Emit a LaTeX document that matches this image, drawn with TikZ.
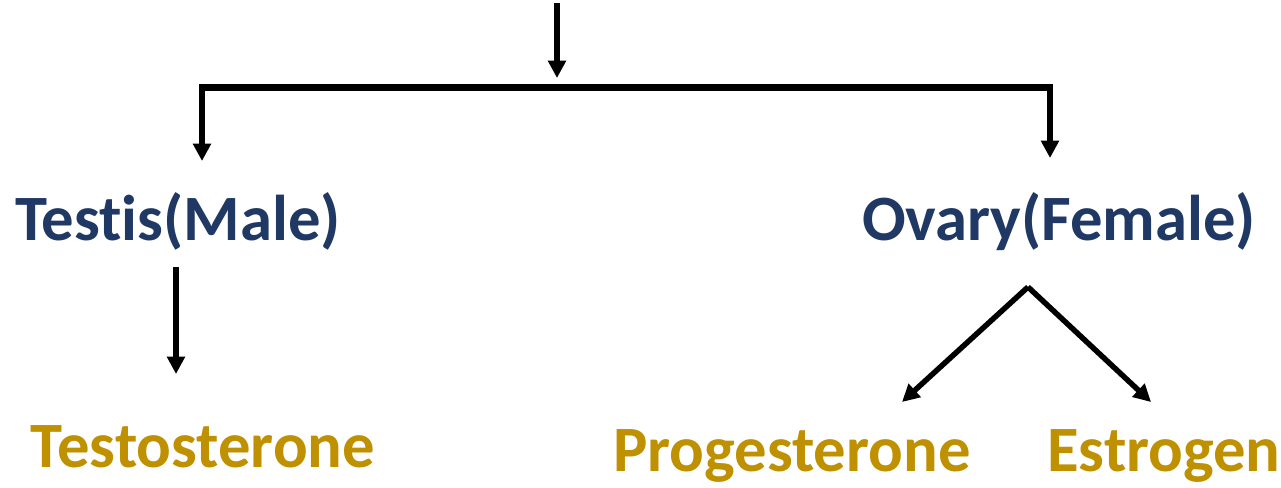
\documentclass[tikz,border=0pt]{standalone}
\usepackage{fontspec}
\setmainfont{Carlito}[Ligatures=NoCommon]
\usetikzlibrary{arrows.meta}
\definecolor{navytxt}{RGB}{31,56,100}
\definecolor{goldtxt}{RGB}{191,144,0}
\begin{document}
\begin{tikzpicture}[x=0.75pt,y=-0.75pt,
  organ/.style={inner sep=0pt,anchor=base,text=navytxt,font=\fontsize{48.5}{52}\selectfont\bfseries},
  hormone/.style={inner sep=0pt,anchor=base,text=goldtxt,font=\fontsize{48.5}{52}\selectfont\bfseries},
  conn/.style={line width=4.1pt,-{Triangle[width=13pt,length=13pt]}},
  barline/.style={line width=5.4pt}]
\useasboundingbox[fill=white] (0,0) rectangle (1281,487);
% nodes
\node[organ] (testis) at (178,240) {Testis(Male)};
\node[organ] (ovary) at (1059,240) {Ovary(Female)};
\node[hormone] (testo) at (203,467) {Testosterone};
\node[hormone] (proge) at (792,471) {Progesterone};
\node[hormone] (estro) at (1164,471) {Estrogen};
% connector points
\coordinate (topstart) at (557,3);
\coordinate (topend) at (557,78);
\coordinate (barL) at (199,87.5);
\coordinate (barR) at (1053,87.5);
\coordinate (dropL) at (202,87.5);
\coordinate (dropLend) at (202,161);
\coordinate (dropR) at (1050,87.5);
\coordinate (dropRend) at (1050,158);
\coordinate (tstart) at (176,267);
\coordinate (tend) at (176,374);
\coordinate (apex) at (1028,287);
\coordinate (pend) at (902,402);
\coordinate (eend) at (1151,402);
% connectors
\draw[conn] (topstart) -- (topend);
\draw[barline] (barL) -- (barR);
\draw[conn] (dropL) -- (dropLend);
\draw[conn] (dropR) -- (dropRend);
\draw[conn] (tstart) -- (tend);
\draw[conn] (apex) -- (pend);
\draw[conn] (apex) -- (eend);
\end{tikzpicture}
\end{document}
